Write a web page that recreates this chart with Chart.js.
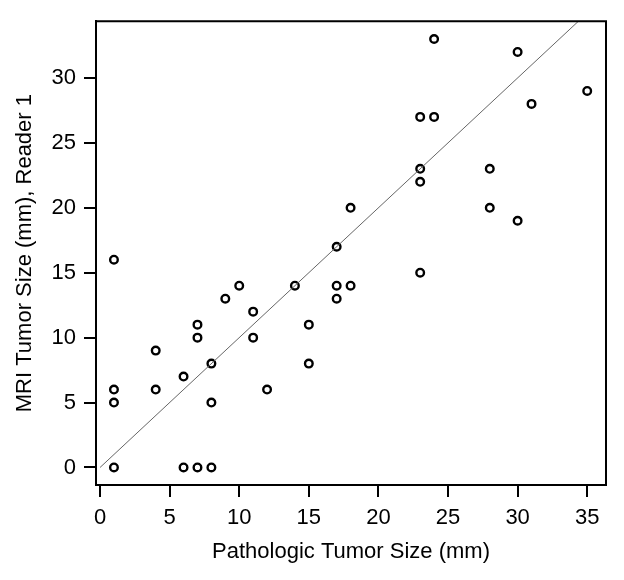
<!DOCTYPE html>
<html>
<head>
<meta charset="utf-8">
<script src="https://cdn.jsdelivr.net/npm/chart.js@4.4.1/dist/chart.umd.min.js"></script>
<style>
  html, body { margin: 0; padding: 0; background: #fff; }
  #wrap { width: 624px; height: 580px; }
</style>
</head>
<body>
<div id="wrap"><canvas id="scatter" width="624" height="580"></canvas></div>
<script>
// Pathologic size (x) vs MRI size, Reader 1 (y), in mm
const pathSize = [1, 1, 1, 1, 4, 4, 6, 6, 7, 7, 7, 8, 8, 8, 9, 10, 11, 11, 12, 14,
                  15, 15, 17, 17, 17, 18, 18, 23, 23, 23, 23, 24, 24, 28, 28, 30, 30, 31, 35];
const mriSize  = [16, 6, 5, 0, 9, 6, 7, 0, 11, 10, 0, 8, 5, 0, 13, 14, 12, 10, 6, 14,
                  11, 8, 17, 14, 13, 14, 20, 15, 22, 23, 27, 27, 33, 23, 20, 32, 19, 28, 29];

// line of identity
const lineX = [0, 40];
const lineY = [0, 40];

const xTicks = [0, 5, 10, 15, 20, 25, 30, 35];
const yTicks = [0, 5, 10, 15, 20, 25, 30];

const points = pathSize.map((x, i) => ({ x: x, y: mriSize[i] }));
const linePts = lineX.map((x, i) => ({ x: x, y: lineY[i] }));

const tickFont = { family: "'Liberation Sans', Arial, sans-serif", size: 22 };
const titleFont = { family: "'Liberation Sans', Arial, sans-serif", size: 22 };

// top and right sides of the box
const frame = {
    id: 'frame',
    afterDraw(chart) {
        const a = chart.chartArea;
        const ctx = chart.ctx;
        ctx.save();
        ctx.strokeStyle = '#000';
        ctx.lineWidth = 2;
        ctx.beginPath();
        ctx.moveTo(a.left, a.top);
        ctx.lineTo(a.right, a.top);
        ctx.lineTo(a.right, a.bottom);
        ctx.stroke();
        ctx.restore();
    }
};

new Chart(document.getElementById('scatter'), {
    type: 'scatter',
    data: {
        datasets: [
            {
                type: 'line',
                data: linePts,
                borderColor: '#666',
                borderWidth: 1,
                pointRadius: 0,
                fill: false
            },
            {
                data: points,
                pointStyle: 'circle',
                pointRadius: 3.8,
                borderWidth: 2.4,
                borderColor: '#000',
                backgroundColor: '#fff'
            }
        ]
    },
    options: {
        responsive: false,
        animation: false,
        events: [],
        layout: { padding: { top: 17, right: 18, left: 0, bottom: 0 } },
        plugins: {
            legend: { display: false },
            tooltip: { enabled: false }
        },
        scales: {
            x: {
                type: 'linear',
                min: -0.29,
                max: 36.35,
                afterFit: s => { s.height = 95; },
                afterBuildTicks: s => { s.ticks = xTicks.map(v => ({ value: v })); },
                ticks: { font: tickFont, color: '#000', padding: 8, maxRotation: 0 },
                grid: { drawOnChartArea: false, drawTicks: true, tickLength: 12, color: '#000', lineWidth: 2 },
                border: { display: true, color: '#000', width: 2 },
                title: {
                    display: true,
                    text: 'Pathologic Tumor Size (mm)',
                    font: titleFont,
                    color: '#000',
                    padding: { bottom: 15 }
                }
            },
            y: {
                type: 'linear',
                min: -1.35,
                max: 34.37,
                afterFit: s => { s.width = 96; },
                afterBuildTicks: s => { s.ticks = yTicks.map(v => ({ value: v })); },
                ticks: { font: tickFont, color: '#000', padding: 8 },
                grid: { drawOnChartArea: false, drawTicks: true, tickLength: 12, color: '#000', lineWidth: 2 },
                border: { display: true, color: '#000', width: 2 },
                title: {
                    display: true,
                    text: 'MRI Tumor Size (mm), Reader 1',
                    font: titleFont,
                    color: '#000',
                    padding: { top: 12 }
                }
            }
        }
    },
    plugins: [frame]
});
</script>
</body>
</html>
